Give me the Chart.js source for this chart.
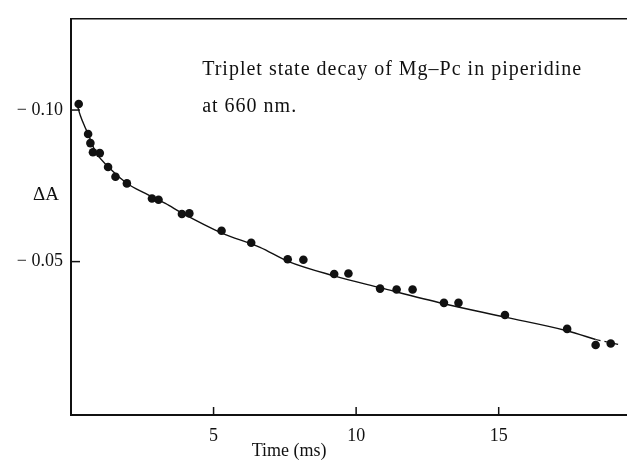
<!DOCTYPE html>
<html>
<head>
<meta charset="utf-8">
<script src="https://cdn.jsdelivr.net/npm/chart.js@4.4.1/dist/chart.umd.min.js"></script>
<style>
  html, body { margin: 0; padding: 0; background: #fff; }
  #wrap { width: 627px; height: 460px; }
</style>
</head>
<body>
<div id="wrap"><canvas id="decay-chart"></canvas></div>
<script>
'use strict';

// measured points (time in ms, delta A)
const TIME_MS = [0.27, 0.60, 0.68, 0.77, 1.01, 1.30, 1.56, 1.96, 2.84, 3.07, 3.89, 4.15,
    5.28, 6.32, 7.60, 8.15, 9.23, 9.73, 10.84, 11.42, 11.98, 13.08, 13.59, 15.22, 17.40, 18.40, 18.93];
const DELTA_A = [-0.1020, -0.0921, -0.0891, -0.0861, -0.0858, -0.0812, -0.0780, -0.0758, -0.0708, -0.0704,
    -0.0657, -0.0659, -0.0602, -0.0562, -0.0508, -0.0506, -0.0459, -0.0461, -0.0411, -0.0408, -0.0408,
    -0.0364, -0.0364, -0.0324, -0.0278, -0.0225, -0.0230];

// fitted curve
const FIT_TIME = [0.22, 0.33, 0.47, 0.61, 0.85, 1.31, 1.98, 2.61, 3.31, 3.90, 5.27, 6.63, 7.61,
    9.23, 10.84, 13.04, 15.22, 17.39, 18.40];
const FIT_DELTA_A = [-0.1016, -0.0981, -0.0948, -0.0919, -0.0864, -0.0812, -0.0757, -0.0725, -0.0692,
    -0.0660, -0.0595, -0.0547, -0.0501, -0.0453, -0.0414, -0.0362, -0.0317, -0.0272, -0.0243];
const TAIL_TIME = [18.40, 19.24];
const TAIL_DELTA_A = [-0.0243, -0.0226];

const X_TICKS = [5, 10, 15];
const Y_TICKS = [-0.10, -0.05];
const Y_TICK_LABELS = ['\u2212 0.10', '\u2212 0.05'];

const CAPTION = ['Triplet state decay of Mg\u2013Pc in piperidine', 'at 660 nm.'];

const SERIF = '"Liberation Serif", "DejaVu Serif", serif';
const INK = '#111';

function to_points(xs, ys) {
    return xs.map((x, i) => ({ x: x, y: ys[i] }));
}

const decor_plugin = {
    id: 'decor',
    afterDraw(chart) {
        const ctx = chart.ctx;
        const area = chart.chartArea;
        const xs = chart.scales.x;
        const ys = chart.scales.y;

        ctx.save();
        ctx.strokeStyle = INK;

        // top frame line
        ctx.lineWidth = 1.5;
        ctx.beginPath();
        ctx.moveTo(area.left, area.top);
        ctx.lineTo(chart.width, area.top);
        ctx.stroke();

        // inward tick marks
        ctx.lineWidth = 1.5;
        X_TICKS.forEach(v => {
            const px = xs.getPixelForValue(v);
            ctx.beginPath();
            ctx.moveTo(px, area.bottom);
            ctx.lineTo(px, area.bottom - 8);
            ctx.stroke();
        });
        Y_TICKS.forEach(v => {
            const py = ys.getPixelForValue(v);
            ctx.beginPath();
            ctx.moveTo(area.left, py);
            ctx.lineTo(area.left + 9, py);
            ctx.stroke();
        });

        ctx.fillStyle = INK;
        ctx.font = '19px ' + SERIF;

        // axis titles
        ctx.textAlign = 'center';
        ctx.textBaseline = 'middle';
        ctx.fillText('\u0394A', area.left - 25, ys.getPixelForValue(-0.0720));
        ctx.font = '18px ' + SERIF;
        ctx.fillText('Time (ms)', xs.getPixelForValue(7.65), 451);

        // caption
        ctx.font = '20px ' + SERIF;
        ctx.letterSpacing = '1px';
        ctx.textAlign = 'left';
        ctx.textBaseline = 'alphabetic';
        ctx.fillText(CAPTION[0], xs.getPixelForValue(4.6), ys.getPixelForValue(-0.1115));
        ctx.fillText(CAPTION[1], xs.getPixelForValue(4.6), ys.getPixelForValue(-0.0994));

        ctx.restore();
    }
};

new Chart(document.getElementById('decay-chart'), {
    type: 'scatter',
    data: {
        datasets: [
            {
                label: 'measured',
                data: to_points(TIME_MS, DELTA_A),
                backgroundColor: INK,
                borderColor: INK,
                pointRadius: 4.3,
                pointBorderWidth: 0,
                showLine: false
            },
            {
                label: 'fit',
                data: to_points(FIT_TIME, FIT_DELTA_A),
                showLine: true,
                borderColor: INK,
                borderWidth: 1.4,
                pointRadius: 0,
                cubicInterpolationMode: 'monotone'
            },
            {
                label: 'fit tail',
                data: to_points(TAIL_TIME, TAIL_DELTA_A),
                showLine: true,
                borderColor: INK,
                borderWidth: 1.2,
                borderDash: [5, 4],
                pointRadius: 0
            }
        ]
    },
    plugins: [decor_plugin],
    options: {
        responsive: true,
        maintainAspectRatio: false,
        animation: false,
        layout: {
            autoPadding: false,
            padding: { top: 15, right: 0, left: 0, bottom: 0 }
        },
        plugins: {
            legend: { display: false },
            tooltip: { enabled: false }
        },
        scales: {
            x: {
                type: 'linear',
                min: 0,
                max: 19.5,
                afterBuildTicks: scale => {
                    scale.ticks = X_TICKS.map(v => ({ value: v }));
                },
                afterFit: scale => {
                    scale.height = 45;
                    scale.paddingRight = 0;
                },
                ticks: {
                    color: INK,
                    padding: 10,
                    maxRotation: 0,
                    font: { family: SERIF, size: 18 }
                },
                grid: { drawOnChartArea: false, drawTicks: false },
                border: { display: true, width: 2, color: INK }
            },
            y: {
                type: 'linear',
                reverse: true,
                min: -0.1301,
                max: 0.0006,
                afterBuildTicks: scale => {
                    scale.ticks = Y_TICKS.map(v => ({ value: v }));
                },
                afterFit: scale => {
                    scale.width = 71;
                },
                ticks: {
                    color: INK,
                    padding: 8,
                    font: { family: SERIF, size: 18 },
                    callback: (value, index) => Y_TICK_LABELS[index]
                },
                grid: { drawOnChartArea: false, drawTicks: false },
                border: { display: true, width: 2, color: INK }
            }
        }
    }
});
</script>
</body>
</html>
